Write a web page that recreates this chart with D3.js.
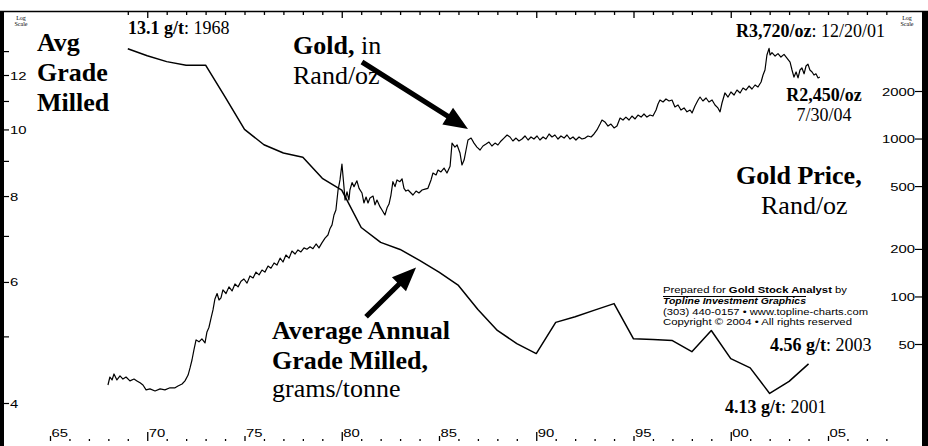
<!DOCTYPE html>
<html><head><meta charset="utf-8">
<script src="https://cdn.jsdelivr.net/npm/d3@7"></script>
<style>body{margin:0;background:#fff}svg{display:block}</style>
</head><body><svg id="c" width="928" height="446"></svg>
<script>
// ---- DATA ----
// Average annual grade milled (g/t), plotted at year-end
const gradeYears = [1968,1969,1970,1971,1972,1973,1974,1975,1976,1977,1978,1979,1980,1981,1982,1983,1984,1985,1986,1987,1988,1989,1990,1991,1992,1993,1994,1995,1996,1997,1998,1999,2000,2001,2002,2003];
const gradeValues = [13.1,12.8,12.55,12.4,12.4,11.15,10.0,9.5,9.24,9.11,8.49,8.16,7.20,6.85,6.69,6.45,6.20,5.93,5.47,5.10,4.88,4.72,5.24,5.34,5.46,5.58,4.96,4.95,4.93,4.75,5.10,4.64,4.50,4.13,4.30,4.56];
// Gold price, Rand/oz [decimal year, price]
const goldSeries = [
[1967.98,27.5],[1968.08,30.9],[1968.19,29.6],[1968.29,32.3],[1968.44,29.6],[1968.60,31.4],[1968.75,30.0],[1968.91,30.9],
[1969.11,29.2],[1969.32,30.0],[1969.47,29.2],[1969.63,28.4],[1969.78,27.5],[1969.94,25.6],[1970.14,26.0],[1970.40,25.2],
[1970.66,26.0],[1970.91,25.6],[1971.17,26.4],[1971.43,26.4],[1971.58,27.1],[1971.79,27.9],[1971.94,29.2],[1972.10,31.8],
[1972.20,35.3],[1972.30,39.6],[1972.40,45.9],[1972.51,53.1],[1972.66,51.6],[1972.81,53.9],[1972.97,50.8],[1973.07,59.6],
[1973.17,63.6],[1973.28,72.9],[1973.38,82.2],[1973.48,96.5],[1973.59,104.4],[1973.69,95],[1973.79,98],[1973.89,110],
[1974.05,104.4],[1974.20,115],[1974.36,108.4],[1974.51,120],[1974.67,115],[1974.82,125],[1974.97,129],[1975.13,121.5],
[1975.28,134.8],[1975.44,131],[1975.59,142.6],[1975.75,137],[1975.90,147],[1976.05,142.6],[1976.21,155.7],[1976.36,151],
[1976.52,163],[1976.67,158],[1976.83,174.8],[1976.98,165.3],[1977.13,183],[1977.29,174.8],[1977.44,194],[1977.60,185.7],
[1977.75,197],[1977.90,191.3],[1978.06,203],[1978.21,199],[1978.37,206.4],[1978.52,200.8],[1978.68,215],[1978.83,203],
[1978.98,218.5],[1979.14,234.2],[1979.29,245],[1979.40,269.7],[1979.50,284],[1979.60,328],[1979.70,353],[1979.81,472],
[1979.91,547],[1980.01,690],[1980.12,484],[1980.17,408],[1980.27,459],[1980.37,408],[1980.42,472],[1980.53,526],
[1980.63,496],[1980.78,540],[1980.89,484],[1981.04,452],[1981.14,391],[1981.25,426],[1981.35,391],[1981.45,420],
[1981.61,432],[1981.71,380],[1981.81,408],[1981.97,369],[1982.07,353],[1982.22,328],[1982.33,364],[1982.43,385],
[1982.53,439],[1982.63,533],[1982.74,496],[1982.84,547],[1982.99,533],[1983.10,556],[1983.20,484],[1983.30,465],
[1983.41,472],[1983.56,452],[1983.66,439],[1983.82,465],[1983.97,452],[1984.13,472],[1984.28,478],[1984.43,484],
[1984.59,547],[1984.69,605],[1984.85,588],[1984.95,632],[1985.10,614],[1985.26,650],[1985.41,605],[1985.57,668],
[1985.67,936],[1985.82,883],[1985.93,910],[1986.08,810],[1986.18,680],[1986.29,731],[1986.39,846],[1986.49,979],
[1986.65,1007],[1986.80,936],[1986.95,883],[1987.11,846],[1987.26,897],[1987.42,923],[1987.57,950],[1987.72,897],
[1987.88,936],[1988.03,910],[1988.19,965],[1988.34,1007],[1988.50,1053],[1988.65,1023],[1988.80,965],[1988.96,1007],
[1989.11,965],[1989.27,993],[1989.42,1038],[1989.58,979],[1989.73,1023],[1989.88,993],[1990.04,1038],[1990.19,979],
[1990.35,1023],[1990.50,993],[1990.66,1069],[1990.81,1023],[1990.96,1053],[1991.12,993],[1991.27,1038],[1991.43,1007],
[1991.58,1053],[1991.74,993],[1991.89,1023],[1992.04,979],[1992.20,1023],[1992.35,993],[1992.51,1007],[1992.66,1038],
[1992.82,1023],[1992.97,1069],[1993.12,1133],[1993.28,1236],[1993.38,1310],[1993.53,1273],[1993.69,1200],[1993.84,1236],
[1994.00,1168],[1994.15,1200],[1994.31,1349],[1994.46,1310],[1994.61,1367],[1994.77,1310],[1994.92,1388],[1995.08,1330],
[1995.23,1409],[1995.39,1367],[1995.54,1430],[1995.69,1367],[1995.85,1409],[1996.00,1388],[1996.16,1516],[1996.26,1654],
[1996.36,1754],[1996.52,1704],[1996.67,1780],[1996.83,1729],[1996.98,1754],[1997.13,1585],[1997.29,1631],[1997.44,1516],
[1997.60,1562],[1997.75,1476],[1997.91,1516],[1998.01,1453],[1998.16,1608],[1998.32,1754],[1998.42,1832],[1998.57,1729],
[1998.73,1806],[1998.88,1704],[1999.04,1754],[1999.19,1631],[1999.34,1562],[1999.45,1476],[1999.55,1679],[1999.70,1943],
[1999.86,1832],[2000.01,1971],[2000.17,1887],[2000.32,2029],[2000.48,1943],[2000.63,2089],[2000.78,2029],[2000.94,2151],
[2001.09,2059],[2001.25,2183],[2001.40,2120],[2001.56,2280],[2001.66,2525],[2001.76,2716],[2001.86,3380],[2001.97,3720],
[2002.02,3380],[2002.12,3500],[2002.28,3330],[2002.43,3450],[2002.58,3280],[2002.74,3410],[2002.89,3230],[2003.05,3050],
[2003.15,2716],[2003.25,2450],[2003.36,2640],[2003.46,2420],[2003.56,2716],[2003.66,2800],[2003.77,2570],[2003.87,2880],
[2003.97,2960],[2004.07,2716],[2004.18,2640],[2004.28,2525],[2004.38,2570],[2004.49,2420],[2004.58,2450]
];
const leftTicks = [4,5,6,7,8,9,10,11,12,13];
const leftLabeled = [4,6,8,10,12];
const rightTicks = [50,100,200,500,1000,2000];
const bottomYears = [1965,1966,1967,1968,1969,1970,1971,1972,1973,1974,1975,1976,1977,1978,1979,1980,1981,1982,1983,1984,1985,1986,1987,1988,1989,1990,1991,1992,1993,1994,1995,1996,1997,1998,1999,2000,2001,2002,2003,2004,2005,2006,2007,2008];
const topYears = bottomYears.filter(y => y >= 1969);
const yearLabels = {1965:"65",1970:"70",1975:"75",1980:"80",1985:"85",1990:"90",1995:"95",2000:"00",2005:"05"};

// ---- SCALES ----
const svg = d3.select("#c");
const W = 928, H = 446;
const x = d3.scaleLinear().domain([1965, 2005]).range([50, 828]);
const yL = d3.scaleLog().domain([4, 12]).range([403, 75]);
const yR = d3.scaleLog().domain([50, 2000]).range([344, 91]);
const SERIF = "'Liberation Serif','Times New Roman',serif";
const SANS = "'Liberation Sans',Arial,sans-serif";

svg.append("rect").attr("width", W).attr("height", H).attr("fill", "#fff");

// frame
svg.append("line").attr("x1", 0).attr("x2", W).attr("y1", 11.5).attr("y2", 11.5).attr("stroke", "#000").attr("stroke-width", 1.5);
svg.append("rect").attr("x", 0).attr("y", 11).attr("width", 4).attr("height", H - 11).attr("fill", "#000");
svg.append("rect").attr("x", 922).attr("y", 11).attr("width", 6).attr("height", H - 11).attr("fill", "#000");

// top axis
const topAx = svg.append("g").attr("transform", "translate(0,11)")
  .call(d3.axisBottom(x).tickValues(topYears).tickSize(4).tickFormat(""));
topAx.select(".domain").remove();
topAx.selectAll(".tick line").attr("stroke-width", 1.3).attr("y2", d => (d % 10 === 0 || d === 1995) ? 7 : 4);

// bottom axis
const botAx = svg.append("g").attr("transform", "translate(0,441)")
  .call(d3.axisTop(x).tickValues(bottomYears).tickSize(2).tickFormat(""));
botAx.select(".domain").remove();
botAx.selectAll(".tick line").attr("stroke-width", 1.3).attr("y2", d => d % 10 === 0 ? -9 : (d % 5 === 0 ? -5 : -2));
botAx.selectAll(".tick").filter(d => yearLabels[d]).append("text")
  .attr("transform", "translate(1,-4) scale(1.35,1)")
  .attr("fill", "#000").attr("font-family", SANS).attr("font-size", 11).attr("text-anchor", "start")
  .text(d => yearLabels[d]);

// left axis
const leftAx = svg.append("g").attr("transform", "translate(4,0)")
  .call(d3.axisRight(yL).tickValues(leftTicks).tickSize(5).tickFormat(""));
leftAx.select(".domain").remove();
leftAx.selectAll(".tick line").attr("stroke-width", 1.2);
leftAx.selectAll(".tick").filter(d => leftLabeled.includes(d)).append("text")
  .attr("transform", "translate(6,4) scale(1.35,1)")
  .attr("fill", "#000").attr("font-family", SANS).attr("font-size", 11).attr("text-anchor", "start")
  .text(d => d);

// right axis
const rightAx = svg.append("g").attr("transform", "translate(922,0)")
  .call(d3.axisLeft(yR).tickValues(rightTicks).tickSize(7).tickFormat(""));
rightAx.select(".domain").remove();
rightAx.selectAll(".tick line").attr("stroke-width", 1.2);
rightAx.selectAll(".tick").append("text")
  .attr("transform", "translate(-7,4) scale(1.35,1)")
  .attr("fill", "#000").attr("font-family", SANS).attr("font-size", 11).attr("text-anchor", "end")
  .text(d => d);

// log scale notes
function logNote(cx) {
  const g = svg.append("g").attr("font-family", SERIF).attr("font-size", 6).attr("fill", "#000").attr("text-anchor", "middle");
  g.append("text").attr("x", cx).attr("y", 20).text("Log");
  g.append("text").attr("x", cx).attr("y", 26).text("Scale");
}
logNote(21); logNote(907);

// lines
const gradeLine = d3.line().x(d => x(d[0] + 1)).y(d => yL(d[1]));
svg.append("path").datum(gradeYears.map((yr, i) => [yr, gradeValues[i]]))
  .attr("d", gradeLine).attr("fill", "none").attr("stroke", "#000").attr("stroke-width", 1.5).attr("stroke-linejoin", "round");
const goldLine = d3.line().x(d => x(d[0])).y(d => yR(d[1]));
svg.append("path").datum(goldSeries).attr("d", goldLine)
  .attr("fill", "none").attr("stroke", "#000").attr("stroke-width", 1.2).attr("stroke-linejoin", "round");

// arrows
function arrow(x1, y1, x2, y2) {
  const dx = x2 - x1, dy = y2 - y1, L = Math.hypot(dx, dy), ux = dx / L, uy = dy / L, nx = -uy, ny = ux;
  const hl = 24, hw = 10, sw = 2.6;
  const bx = x2 - ux * hl, by = y2 - uy * hl;
  const pts = [[x1 + nx * sw, y1 + ny * sw], [bx + nx * sw, by + ny * sw], [bx + nx * hw, by + ny * hw], [x2, y2],
    [bx - nx * hw, by - ny * hw], [bx - nx * sw, by - ny * sw], [x1 - nx * sw, y1 - ny * sw]];
  svg.append("polygon").attr("points", pts.map(p => p.join(",")).join(" ")).attr("fill", "#000");
}
arrow(x(1981.04), yR(3052), x(1986.49), yR(1150));
arrow(x(1981.25), yL(5.34), x(1983.82), yL(6.30));

// text helpers
function txt(xp, yp, parts, size, anchor) {
  const t = svg.append("text").attr("x", xp).attr("y", yp).attr("font-family", SERIF).attr("font-size", size)
    .attr("fill", "#000").attr("text-anchor", anchor || "start");
  parts.forEach(p => t.append("tspan").attr("font-weight", p[1] ? "bold" : "normal").text(p[0]));
  return t;
}
txt(37, 51, [["Avg", 1]], 26);
txt(37, 81, [["Grade", 1]], 26);
txt(37, 111, [["Milled", 1]], 26);
txt(128, 34, [["13.1 g/t", 1], [": 1968", 0]], 18);
txt(293, 54, [["Gold,", 1], [" in", 0]], 26);
txt(293, 84, [["Rand/oz", 0]], 26);
txt(736, 37, [["R3,720/oz", 1], [": 12/20/01", 0]], 18);
txt(824, 101, [["R2,450/oz", 1]], 18, "middle");
txt(824, 121, [["7/30/04", 0]], 18, "middle");
txt(736, 184, [["Gold Price,", 1]], 26);
txt(761, 214, [["Rand/oz", 0]], 26);
txt(272, 339, [["Average Annual", 1]], 26);
txt(272, 369, [["Grade Milled,", 1]], 26);
txt(272, 397, [["grams/tonne", 0]], 26);
txt(770, 351, [["4.56 g/t", 1], [": 2003", 0]], 18);
txt(725, 413, [["4.13 g/t", 1], [": 2001", 0]], 18);

// credit block
const cr = svg.append("g").attr("font-family", SANS).attr("font-size", 9.2).attr("fill", "#000");
const c1 = cr.append("text").attr("x", 663).attr("y", 293).attr("textLength", 184).attr("lengthAdjust", "spacingAndGlyphs");
c1.append("tspan").text("Prepared for ");
c1.append("tspan").attr("font-weight", "bold").text("Gold Stock Analyst");
c1.append("tspan").text(" by");
cr.append("line").attr("x1", 663).attr("x2", 806).attr("y1", 296.5).attr("y2", 296.5).attr("stroke", "#000").attr("stroke-width", 1);
cr.append("text").attr("x", 663).attr("y", 304).attr("font-weight", "bold").attr("font-style", "italic")
  .attr("textLength", 143).attr("lengthAdjust", "spacingAndGlyphs").text("Topline Investment Graphics");
cr.append("text").attr("x", 663).attr("y", 314.5).attr("textLength", 205).attr("lengthAdjust", "spacingAndGlyphs")
  .text("(303) 440-0157 \u2022 www.topline-charts.com");
cr.append("text").attr("x", 663).attr("y", 325).attr("textLength", 189).attr("lengthAdjust", "spacingAndGlyphs")
  .text("Copyright \u00a9 2004 \u2022 All rights reserved");
</script></body></html>
